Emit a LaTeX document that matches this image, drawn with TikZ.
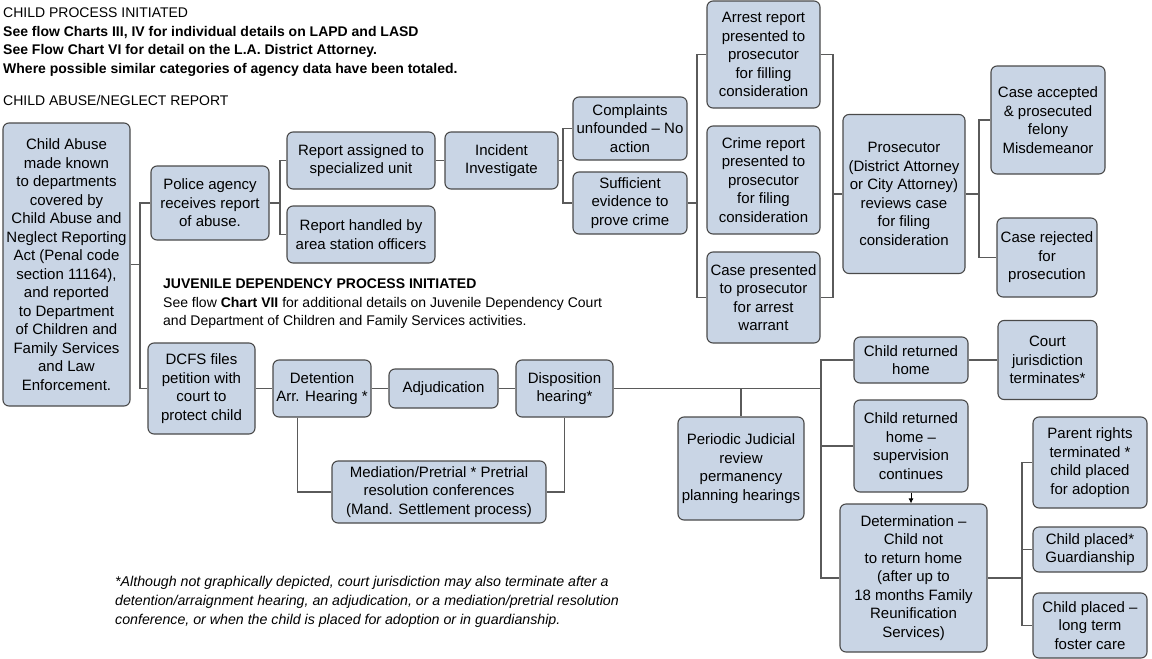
\documentclass[tikz,border=0pt]{standalone}
\usepackage{fontspec}
\setmainfont{Liberation Sans}
\usetikzlibrary{calc,arrows.meta}
\definecolor{boxfill}{HTML}{C9D5E5}
\definecolor{boxline}{HTML}{4A4A4A}
\definecolor{linkgray}{HTML}{5A5A5A}

\begin{document}
\begin{tikzpicture}[x=1pt,y=-1pt,
  box/.style 2 args={draw=boxline, line width=1.1pt, fill=boxfill, rounded corners=6pt,
    align=center, inner sep=0pt, minimum width=#1pt, minimum height=#2pt,
    font=\fontsize{15}{18.5}\selectfont},
  link/.style={draw=linkgray, line width=1.2pt},
  note/.style={align=left, inner sep=0pt, anchor=north west}]
\useasboundingbox (0,0) rectangle (1152,659);

% header texts
\node[note, font=\fontsize{14}{18.4}\selectfont] (head) at (3,8)
  {CHILD PROCESS INITIATED\\
   \textbf{See flow Charts III, IV for individual details on LAPD and LASD}\\
   \textbf{See Flow Chart VI for detail on the L.A. District Attorney.}\\
   \textbf{Where possible similar categories of agency data have been totaled.}};
\node[note, font=\fontsize{14}{18.4}\selectfont] (report) at (3,95) {CHILD ABUSE/NEGLECT REPORT};
\node[note, font=\fontsize{14}{18.6}\selectfont] (juvenile) at (163,278.5)
  {\textbf{JUVENILE DEPENDENCY PROCESS INITIATED}\\
   See flow \textbf{Chart VII} for additional details on Juvenile Dependency Court\\
   and Department of Children and Family Services activities.};
\node[note, font=\fontsize{14.2}{19}\itshape] (footnote) at (115,576.5)
  {*Although not graphically depicted, court jurisdiction may also terminate after a\\
   detention/arraignment hearing, an adjudication, or a mediation/pretrial resolution\\
   conference, or when the child is placed for adoption or in guardianship.};

% police side
\node[box={127}{283}] (abuse) at (66.5,264.5) {Child Abuse\\ made known\\ to departments\\ covered by\\ Child Abuse and\\ Neglect Reporting\\ Act (Penal code\\ section 11164),\\ and reported\\ to Department\\ of Children and\\ Family Services\\ and Law\\ Enforcement.};
\node[box={118}{74}] (police) at (210,203) {Police agency\\ receives report\\ of abuse.};
\node[box={148}{57}] (assigned) at (361,160.5) {Report assigned to\\ specialized unit};
\node[box={148}{57}] (handled) at (361,234.5) {Report handled by\\ area station officers};
\node[box={113}{57}] (incident) at (501.5,160.5) {Incident\\ Investigate};
\node[box={114}{63}] (unfounded) at (630,128.5) {Complaints\\ unfounded – No\\ action};
\node[box={114}{62}] (evidence) at (630,203) {Sufficient\\ evidence to\\ prove crime};
\node[box={113}{107}] (arrest) at (763.5,54.5) {Arrest report\\ presented to\\ prosecutor\\ for filling\\ consideration};
\node[box={113}{108}] (crime) at (763.5,180) {Crime report\\ presented to\\ prosecutor\\ for filing\\ consideration};
\node[box={113}{91}] (warrant) at (763.5,297.5) {Case presented\\ to prosecutor\\ for arrest\\ warrant};
\node[box={122}{159}] (prosecutor) at (904,194) {Prosecutor\\ (District Attorney\\ or City Attorney)\\ reviews case\\ for filing\\ consideration};
\node[box={114}{108}] (accepted) at (1048,120) {Case accepted\\ \& prosecuted\\ felony\\ Misdemeanor};
\node[box={100}{79}] (rejected) at (1047,257.5) {Case rejected\\ for\\ prosecution};

% court side
\node[box={107}{91}] (dcfs) at (201.5,388.5) {DCFS files\\ petition with\\ court to\\ protect child};
\node[box={98}{57}] (detention) at (322,388.5) {Detention\\ Arr. Hearing *};
\node[box={109}{39}] (adjud) at (443.5,388.5) {Adjudication};
\node[box={97}{57}] (disposition) at (564.5,388.5) {Disposition\\ hearing*};
\node[box={214}{62}] (mediation) at (439,492) {Mediation/Pretrial * Pretrial\\ resolution conferences\\ (Mand. Settlement process)};
\node[box={126}{103}] (periodic) at (741,468.5) {Periodic Judicial\\ review\\ permanency\\ planning hearings};
\node[box={114}{46}] (home) at (911,360) {Child returned\\ home};
\node[box={99}{79}] (court) at (1047.5,360) {Court\\ jurisdiction\\ terminates*};
\node[box={114}{92}] (supervision) at (911,446) {Child returned\\ home –\\ supervision\\ continues};
\node[box={147}{148}] (determination) at (913.5,578) {Determination –\\ Child not\\ to return home\\ (after up to\\ 18 months Family\\ Reunification\\ Services)};
\node[box={114}{91}] (parent) at (1090,462.5) {Parent rights\\ terminated *\\ child placed\\ for adoption};
\node[box={114}{45}] (guardian) at (1090,549.5) {Child placed*\\ Guardianship};
\node[box={114}{65}] (foster) at (1090,625.5) {Child placed –\\ long term\\ foster care};

% junctions
\coordinate (j1) at (140,264.5);
\coordinate (j2) at (280,203);
\coordinate (j3) at (563,160.5);
\coordinate (j4) at (697,203);
\coordinate (j5) at (833,194);
\coordinate (j6) at (979,194);
\coordinate (j7) at (821,388.5);
\coordinate (j8) at (1022,578);

% connectors
\draw[link] (abuse.east) -- (j1);
\draw[link] (police.west) -| (j1) |- (dcfs.west);
\draw[link] (police.east) -- (j2);
\draw[link] (assigned.west) -| (j2) |- (handled.west);
\draw[link] (assigned) -- (incident);
\draw[link] (incident.east) -- (j3);
\draw[link] (unfounded.west) -| (j3) |- (evidence.west);
\draw[link] (evidence.east) -- (j4);
\draw[link] (arrest.west) -| (j4) |- (warrant.west);
\draw[link] (arrest.east) -| (j5) |- (warrant.east);
\draw[link] (j5) -- (prosecutor.west);
\draw[link] (prosecutor.east) -- (j6);
\draw[link] (accepted.west) -| (j6) |- (rejected.west);

\draw[link] (dcfs) -- (detention);
\draw[link] (detention) -- (adjud);
\draw[link] (adjud) -- (disposition);
\draw[link] ($(detention.south west)!0.25!(detention.south east)$) |- (mediation.west);
\draw[link] (disposition.south) |- (mediation.east);
\draw[link] (disposition.east) -- (j7);
\draw[link] (periodic.north) -- (periodic.north |- j7);
\draw[link] (home.west) -| (j7) |- (determination.west);
\draw[link] (supervision.west) -- (supervision.west -| j7);
\draw[link] (home) -- (court);
\draw[link, -{Latex[length=5pt,width=5pt]}, line width=0.9pt, black] (supervision.south) -- (supervision.south |- determination.north);
\draw[link] (determination.east) -- (j8);
\draw[link] (parent.west) -| (j8) |- (foster.west);
\draw[link] (guardian.west) -- (guardian.west -| j8);
\end{tikzpicture}
\end{document}
